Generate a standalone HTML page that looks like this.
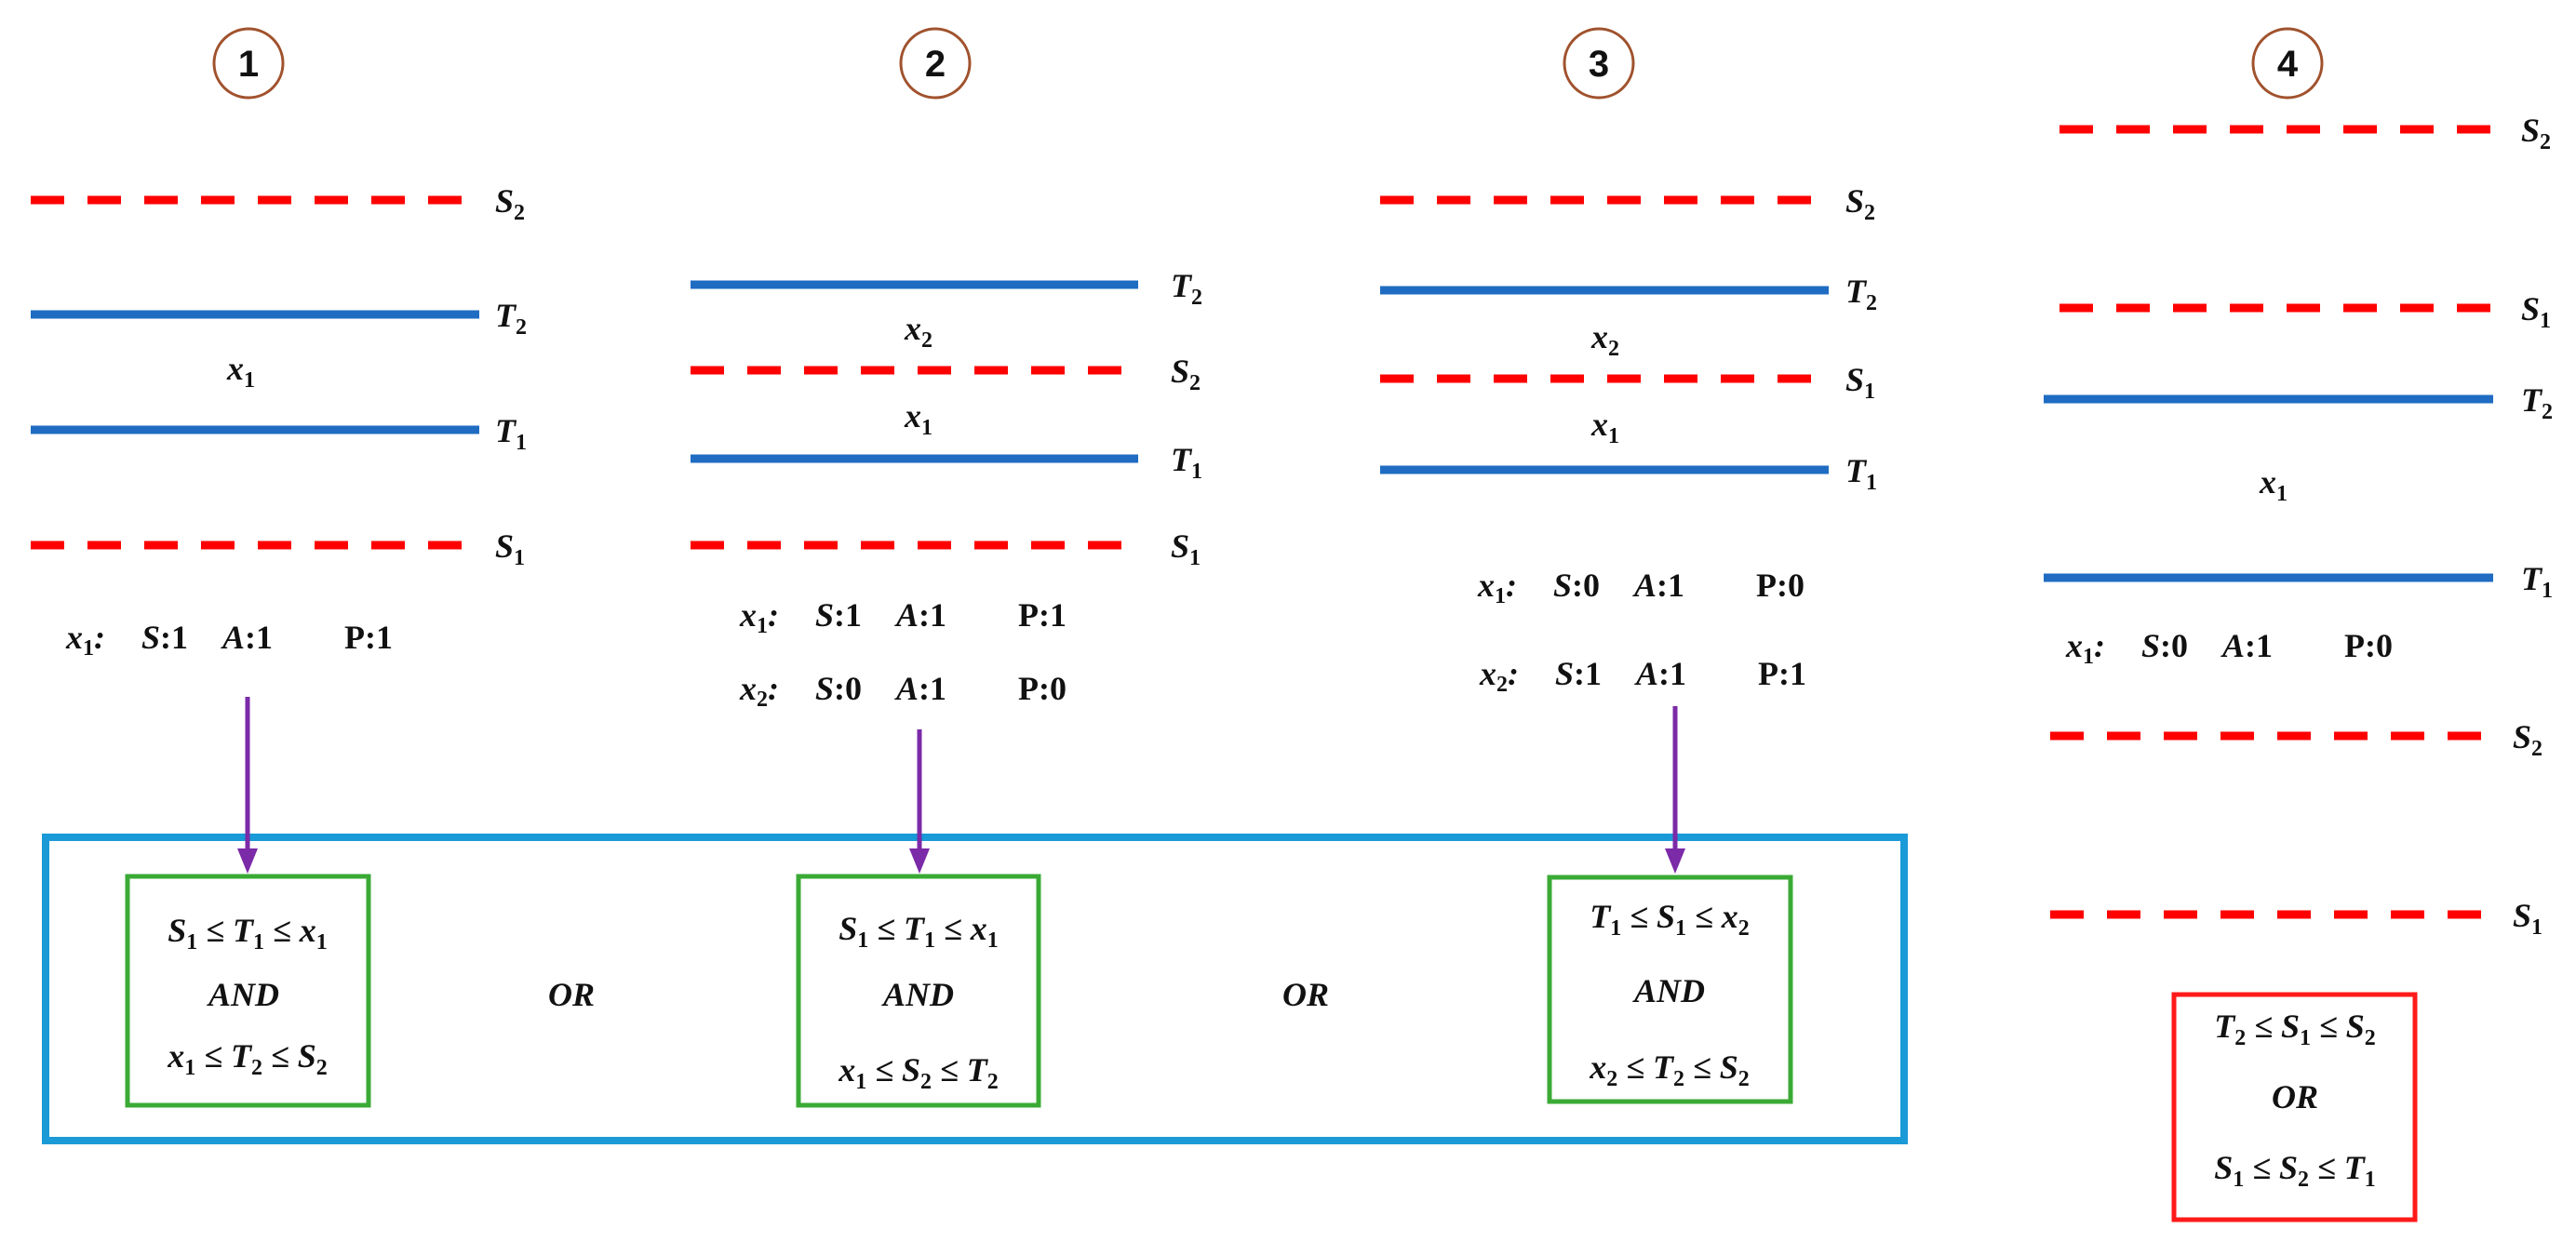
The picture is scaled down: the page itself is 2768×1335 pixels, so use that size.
<!DOCTYPE html>
<html><head><meta charset="utf-8"><style>
html,body{margin:0;padding:0;background:#fff;}
svg{display:block;}
.m{font-family:"Liberation Serif",serif;font-style:italic;font-weight:bold;font-size:36px;fill:#111;}
.n{font-family:"Liberation Sans",sans-serif;font-weight:bold;font-size:40px;fill:#111;}
.p{font-style:normal;}
.s{font-size:24px;font-style:normal;}
</style></head><body>
<svg width="2768" height="1335" viewBox="0 0 2768 1335" xmlns="http://www.w3.org/2000/svg">
<g fill="none" stroke="#a0522d" stroke-width="3">
<ellipse cx="267" cy="68" rx="37" ry="37"/>
<ellipse cx="1005" cy="68" rx="37" ry="37"/>
<ellipse cx="1718" cy="68" rx="37" ry="37"/>
<ellipse cx="2458" cy="68" rx="37" ry="37"/>
</g>
<g text-anchor="middle">
<text x="267" y="82" class="n">1</text>
<text x="1005" y="82" class="n">2</text>
<text x="1718" y="82" class="n">3</text>
<text x="2458" y="82" class="n">4</text>
</g>
<g stroke-width="9">
<g stroke="#ff0000" stroke-dasharray="36 25">
<line x1="33" y1="215" x2="500" y2="215"/>
<line x1="33" y1="586" x2="500" y2="586"/>
<line x1="742" y1="398" x2="1210" y2="398"/>
<line x1="742" y1="586" x2="1210" y2="586"/>
<line x1="1483" y1="215" x2="1950" y2="215"/>
<line x1="1483" y1="407" x2="1950" y2="407"/>
<line x1="2213" y1="139" x2="2680" y2="139"/>
<line x1="2213" y1="331" x2="2680" y2="331"/>
<line x1="2203" y1="791" x2="2669" y2="791"/>
<line x1="2203" y1="983" x2="2669" y2="983"/>
</g>
<g stroke="#1f6cc2">
<line x1="33" y1="338" x2="515" y2="338"/>
<line x1="33" y1="462" x2="515" y2="462"/>
<line x1="742" y1="306" x2="1223" y2="306"/>
<line x1="742" y1="493" x2="1223" y2="493"/>
<line x1="1483" y1="312" x2="1965" y2="312"/>
<line x1="1483" y1="505" x2="1965" y2="505"/>
<line x1="2196" y1="429" x2="2679" y2="429"/>
<line x1="2196" y1="621" x2="2679" y2="621"/>
</g>
</g>
<g class="m">
<text x="532" y="228">S<tspan class="s" dy="8">2</tspan></text>
<text x="532" y="351">T<tspan class="s" dy="8">2</tspan></text>
<text x="532" y="475">T<tspan class="s" dy="8">1</tspan></text>
<text x="532" y="599">S<tspan class="s" dy="8">1</tspan></text>
<text x="1258" y="319">T<tspan class="s" dy="8">2</tspan></text>
<text x="1258" y="411">S<tspan class="s" dy="8">2</tspan></text>
<text x="1258" y="506">T<tspan class="s" dy="8">1</tspan></text>
<text x="1258" y="599">S<tspan class="s" dy="8">1</tspan></text>
<text x="1983" y="228">S<tspan class="s" dy="8">2</tspan></text>
<text x="1983" y="325">T<tspan class="s" dy="8">2</tspan></text>
<text x="1983" y="420">S<tspan class="s" dy="8">1</tspan></text>
<text x="1983" y="518">T<tspan class="s" dy="8">1</tspan></text>
<text x="2709" y="152">S<tspan class="s" dy="8">2</tspan></text>
<text x="2709" y="344">S<tspan class="s" dy="8">1</tspan></text>
<text x="2709" y="442">T<tspan class="s" dy="8">2</tspan></text>
<text x="2709" y="634">T<tspan class="s" dy="8">1</tspan></text>
<text x="2700" y="804">S<tspan class="s" dy="8">2</tspan></text>
<text x="2700" y="996">S<tspan class="s" dy="8">1</tspan></text>
<text x="259" y="408" text-anchor="middle">x<tspan class="s" dy="8">1</tspan></text>
<text x="987" y="365" text-anchor="middle">x<tspan class="s" dy="8">2</tspan></text>
<text x="987" y="459" text-anchor="middle">x<tspan class="s" dy="8">1</tspan></text>
<text x="1725" y="374" text-anchor="middle">x<tspan class="s" dy="8">2</tspan></text>
<text x="1725" y="468" text-anchor="middle">x<tspan class="s" dy="8">1</tspan></text>
<text x="2443" y="530" text-anchor="middle">x<tspan class="s" dy="8">1</tspan></text>
</g>
<g class="m" font-size="32">
<g transform="translate(71,697)"><text x="0">x<tspan class="s" dy="7">1</tspan><tspan dy="-7">:</tspan></text><text x="81">S<tspan class="p">:1</tspan></text><text x="168">A<tspan class="p">:1</tspan></text><text x="299" class="m p">P:1</text></g>
<g transform="translate(795,673)"><text x="0">x<tspan class="s" dy="7">1</tspan><tspan dy="-7">:</tspan></text><text x="81">S<tspan class="p">:1</tspan></text><text x="168">A<tspan class="p">:1</tspan></text><text x="299" class="m p">P:1</text></g>
<g transform="translate(795,752)"><text x="0">x<tspan class="s" dy="7">2</tspan><tspan dy="-7">:</tspan></text><text x="81">S<tspan class="p">:0</tspan></text><text x="168">A<tspan class="p">:1</tspan></text><text x="299" class="m p">P:0</text></g>
<g transform="translate(1588,641)"><text x="0">x<tspan class="s" dy="7">1</tspan><tspan dy="-7">:</tspan></text><text x="81">S<tspan class="p">:0</tspan></text><text x="168">A<tspan class="p">:1</tspan></text><text x="299" class="m p">P:0</text></g>
<g transform="translate(1590,736)"><text x="0">x<tspan class="s" dy="7">2</tspan><tspan dy="-7">:</tspan></text><text x="81">S<tspan class="p">:1</tspan></text><text x="168">A<tspan class="p">:1</tspan></text><text x="299" class="m p">P:1</text></g>
<g transform="translate(2220,706)"><text x="0">x<tspan class="s" dy="7">1</tspan><tspan dy="-7">:</tspan></text><text x="81">S<tspan class="p">:0</tspan></text><text x="168">A<tspan class="p">:1</tspan></text><text x="299" class="m p">P:0</text></g>
</g>
<rect x="49" y="900" width="1997" height="326" fill="none" stroke="#1a9ad6" stroke-width="8"/>
<g fill="none" stroke="#3aaa35" stroke-width="5">
<rect x="137" y="942" width="259" height="246"/>
<rect x="858" y="942" width="258" height="246"/>
<rect x="1665" y="943" width="259" height="241"/>
</g>
<rect x="2336" y="1069" width="259" height="242" fill="none" stroke="#ff1a1a" stroke-width="5"/>
<g stroke="#7b2aa8" stroke-width="5">
<line x1="266" y1="749" x2="266" y2="915"/>
<line x1="988" y1="784" x2="988" y2="915"/>
<line x1="1800" y1="759" x2="1800" y2="915"/>
</g>
<g fill="#7b2aa8">
<path d="M255,912 L277,912 L266,939 z"/>
<path d="M977,912 L999,912 L988,939 z"/>
<path d="M1789,912 L1811,912 L1800,939 z"/>
</g>
<g class="m" text-anchor="middle">
<text x="266" y="1012">S<tspan class="s" dy="8">1</tspan><tspan dy="-8"> ≤ T</tspan><tspan class="s" dy="8">1</tspan><tspan dy="-8"> ≤ x</tspan><tspan class="s" dy="8">1</tspan></text>
<text x="262" y="1081">AND</text>
<text x="266" y="1147">x<tspan class="s" dy="8">1</tspan><tspan dy="-8"> ≤ T</tspan><tspan class="s" dy="8">2</tspan><tspan dy="-8"> ≤ S</tspan><tspan class="s" dy="8">2</tspan></text>
<text x="614" y="1081">OR</text>
<text x="987" y="1010">S<tspan class="s" dy="8">1</tspan><tspan dy="-8"> ≤ T</tspan><tspan class="s" dy="8">1</tspan><tspan dy="-8"> ≤ x</tspan><tspan class="s" dy="8">1</tspan></text>
<text x="987" y="1081">AND</text>
<text x="987" y="1162">x<tspan class="s" dy="8">1</tspan><tspan dy="-8"> ≤ S</tspan><tspan class="s" dy="8">2</tspan><tspan dy="-8"> ≤ T</tspan><tspan class="s" dy="8">2</tspan></text>
<text x="1403" y="1081">OR</text>
<text x="1794" y="997">T<tspan class="s" dy="8">1</tspan><tspan dy="-8"> ≤ S</tspan><tspan class="s" dy="8">1</tspan><tspan dy="-8"> ≤ x</tspan><tspan class="s" dy="8">2</tspan></text>
<text x="1794" y="1077">AND</text>
<text x="1794" y="1159">x<tspan class="s" dy="8">2</tspan><tspan dy="-8"> ≤ T</tspan><tspan class="s" dy="8">2</tspan><tspan dy="-8"> ≤ S</tspan><tspan class="s" dy="8">2</tspan></text>
<text x="2466" y="1115">T<tspan class="s" dy="8">2</tspan><tspan dy="-8"> ≤ S</tspan><tspan class="s" dy="8">1</tspan><tspan dy="-8"> ≤ S</tspan><tspan class="s" dy="8">2</tspan></text>
<text x="2466" y="1191">OR</text>
<text x="2466" y="1267">S<tspan class="s" dy="8">1</tspan><tspan dy="-8"> ≤ S</tspan><tspan class="s" dy="8">2</tspan><tspan dy="-8"> ≤ T</tspan><tspan class="s" dy="8">1</tspan></text>
</g>
</svg>
</body></html>
